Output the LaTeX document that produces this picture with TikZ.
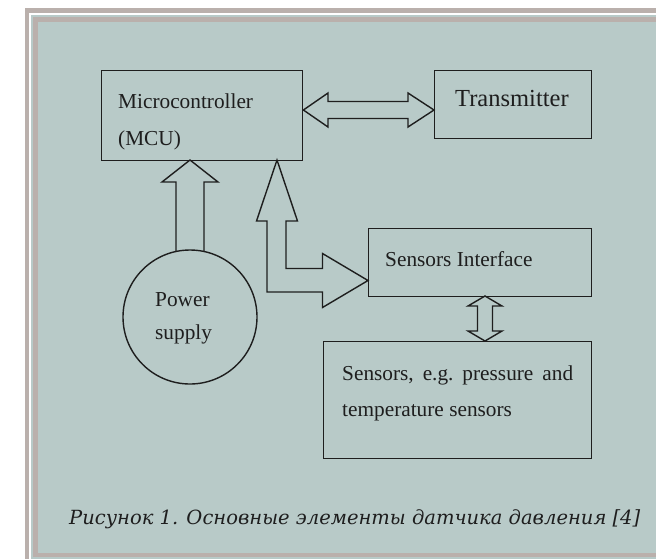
\documentclass[tikz,border=0pt]{standalone}
\usepackage{fontspec}
\setmainfont{Liberation Serif}
\newfontfamily\capfont{DejaVu Serif}
\usetikzlibrary{calc}
\definecolor{bgteal}{RGB}{184,202,200}
\definecolor{bandgray}{RGB}{186,176,172}
\definecolor{ink}{RGB}{30,30,30}
\begin{document}
\begin{tikzpicture}[x=1pt,y=-1pt,
  blockbox/.style={draw=ink, line width=1.4pt, rectangle, inner sep=0pt, anchor=north west},
  blockarrow/.style={draw=ink, line width=1.4pt, line join=miter, miter limit=20},
  lbl/.style={anchor=base west, inner sep=0pt, text=ink, font=\fontsize{21.3}{25}\selectfont}]
\useasboundingbox (0,0) rectangle (656,558);
\begin{scope}
\clip (0,0) rectangle (656,558);
\fill[white] (0,0) rectangle (656,558);
\fill[bandgray] (25,8.3) rectangle (700,600);
\fill[white] (29.4,12.7) rectangle (700,600);
\fill[bgteal] (31,15) rectangle (700,600);
\fill[bandgray] (33.3,17.3) rectangle (700,557);
\fill[bgteal] (38,22) rectangle (700,552.5);
\end{scope}

% boxes
\node[blockbox, minimum width=201pt, minimum height=90pt] (mcu) at (101,70) {};
\node[blockbox, minimum width=157pt, minimum height=68pt] (tx) at (434,70) {};
\node[blockbox, minimum width=223pt, minimum height=68pt] (si) at (368,228) {};
\node[blockbox, minimum width=268pt, minimum height=117pt] (sen) at (323,341) {};
\node[draw=ink, line width=1.4pt, circle, minimum size=134pt, inner sep=0pt] (ps) at (190,317) {};

% texts
\node[lbl] (t1) at (118,108.3) {Microcontroller};
\node[lbl] (t2) at (118,145) {(MCU)};
\node[lbl, font=\fontsize{24.5}{28}\selectfont] (t3) at (455,106.7) {Transmitter};
\node[lbl] (t4) at (385,266.7) {Sensors Interface};
\node[lbl] (t5) at (155,306) {Power};
\node[lbl] (t6) at (155,339.3) {supply};
\node[lbl] (t7) at (342,380) {\hbox to 231pt{Sensors,\hfill e.g.\hfill pressure\hfill and}};
\node[lbl] (t8) at (342,416) {temperature sensors};

% caption
\node[anchor=base west, inner sep=0pt, text=ink] (cap) at (69,524)
  {\resizebox{571pt}{!}{\capfont\itshape Рисунок 1. Основные элементы датчика давления [4]}};

% MCU <-> Transmitter
\draw[blockarrow] (mcu.east |- 0,110) -- (328,93) -- (328,101.5) -- (408,101.5) -- (408,93)
  -- (tx.west |- 0,110) -- (408,127) -- (408,118.5) -- (328,118.5) -- (328,127) -- cycle;

% Power supply -> MCU
\draw[blockarrow] (176,251.3) -- (176,182) -- (162,182) -- (190,160) -- (218,182) -- (204,182) -- (204,251.3);

% MCU <-> Sensors Interface (L-shaped)
\draw[blockarrow] (277,160) -- (297.5,221) -- (286,221) -- (286,268.5) -- (322.5,268.5) -- (322.5,253.5)
  -- (si.west |- 0,280.5) -- (322.5,307.5) -- (322.5,292) -- (267,292) -- (267,221) -- (256.5,221) -- cycle;

% Sensors Interface <-> Sensors
\draw[blockarrow] (485,296) -- (502,306) -- (492.5,306) -- (492.5,331) -- (502,331) -- (485,341)
  -- (468,331) -- (477.5,331) -- (477.5,306) -- (468,306) -- cycle;
\end{tikzpicture}
\end{document}
